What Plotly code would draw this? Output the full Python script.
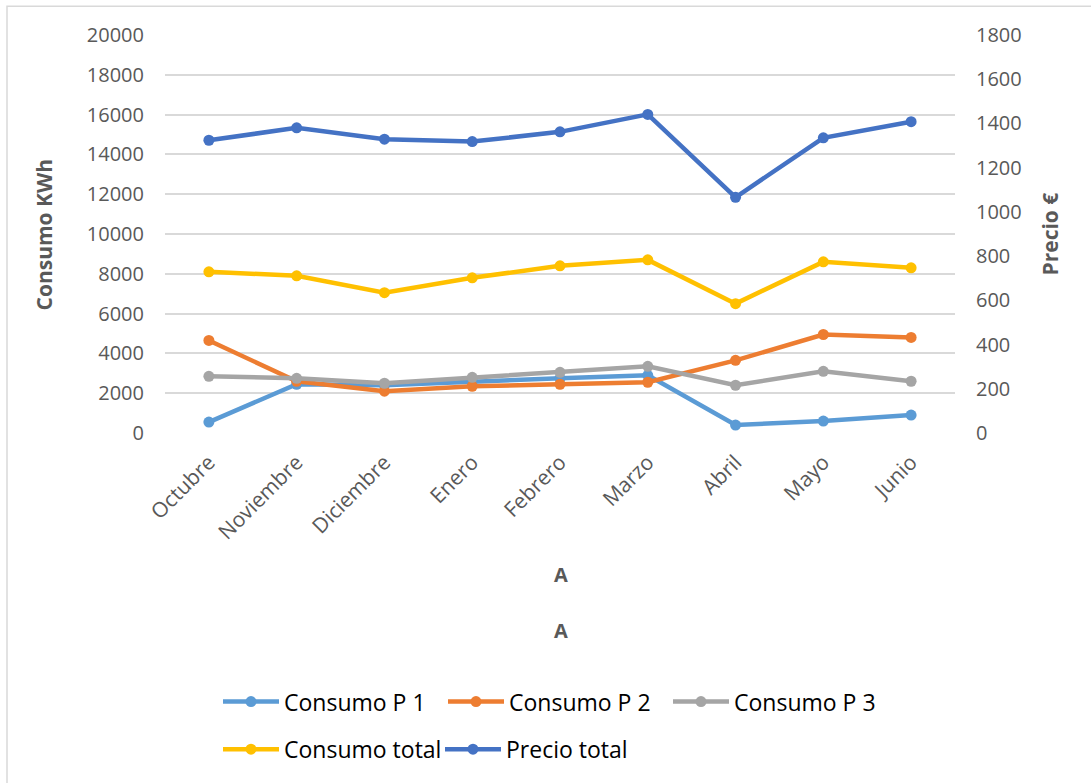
import plotly.graph_objects as go

# Months of the billing period
meses = ["Octubre", "Noviembre", "Diciembre", "Enero", "Febrero",
         "Marzo", "Abril", "Mayo", "Junio"]

# Consumption per tariff period (kWh)
consumo_p1 = [550, 2450, 2400, 2600, 2750, 2900, 400, 600, 900]
consumo_p2 = [4650, 2600, 2100, 2350, 2450, 2550, 3650, 4950, 4800]
consumo_p3 = [2850, 2750, 2500, 2800, 3050, 3350, 2400, 3100, 2600]
consumo_total = [8100, 7900, 7050, 7800, 8400, 8700, 6500, 8600, 8300]

# Total price (€), right axis
precio_total = [1324, 1380, 1329, 1318, 1362, 1441, 1066, 1335, 1408]

W, H = 1091, 783
ML, MR, MT, MB = 165, 136, 35, 347
PW, PH = W - ML - MR, H - MT - MB

TICK = "#595959"
GRID = "#D9D9D9"
FONT = "Open Sans, Noto Sans, DejaVu Sans, sans-serif"


def px_x(px):
    return (px - ML) / PW


def px_y(py):
    return (H - MB - py) / PH


fig = go.Figure()

series = [
    ("Consumo P 1", consumo_p1, "#5B9BD5", "y", "legend"),
    ("Consumo P 2", consumo_p2, "#ED7D31", "y", "legend"),
    ("Consumo P 3", consumo_p3, "#A5A5A5", "y", "legend"),
    ("Consumo total", consumo_total, "#FFC000", "y", "legend2"),
    ("Precio total", precio_total, "#4472C4", "y2", "legend2"),
]
for name, vals, color, yax, leg in series:
    fig.add_trace(go.Scatter(
        x=meses, y=vals, name=name, mode="lines+markers",
        line=dict(color=color, width=4.5),
        marker=dict(color=color, size=11),
        yaxis=yax, legend=leg,
    ))

legend_common = dict(
    orientation="h", xanchor="left", yanchor="top",
    font=dict(size=23, color="#000000", family=FONT),
    entrywidthmode="pixels", bgcolor="rgba(0,0,0,0)", itemwidth=56,
)

fig.update_layout(
    width=W, height=H,
    margin=dict(l=ML, r=MR, t=MT, b=MB),
    paper_bgcolor="white", plot_bgcolor="white",
    font=dict(family=FONT, color=TICK, size=20),
    xaxis=dict(
        type="category", range=[-0.5, 8.5], showgrid=False,
        showline=False, zeroline=False, ticks="",
        tickangle=-45, tickfont=dict(size=21, color=TICK),
        ticklabelstandoff=12,
    ),
    yaxis=dict(
        range=[0, 20000], dtick=2000, tickformat="d", showgrid=True,
        gridcolor=GRID, gridwidth=1.5, zeroline=False, showline=False,
        ticks="", tickfont=dict(size=20, color=TICK), ticklabelstandoff=20,
    ),
    yaxis2=dict(
        range=[0, 1800], dtick=200, tickformat="d", overlaying="y",
        side="right", showgrid=False, zeroline=False, showline=False,
        ticks="", tickfont=dict(size=20, color=TICK), ticklabelstandoff=20,
    ),
    legend=dict(x=px_x(218), y=px_y(685), entrywidth=154, **legend_common),
    legend2=dict(x=px_x(218), y=px_y(733), entrywidth=151, **legend_common),
    showlegend=True,
)

annotations = [
    dict(text="<b>Consumo KWh</b>", x=px_x(44), y=px_y(236), textangle=-90,
         font=dict(size=21, color=TICK)),
    dict(text="<b>Precio €</b>", x=px_x(1050), y=px_y(236), textangle=-90,
         font=dict(size=21, color=TICK)),
    dict(text="<b>A</b>", x=px_x(561), y=px_y(579),
         font=dict(size=20, color=TICK)),
    dict(text="<b>A</b>", x=px_x(561), y=px_y(635),
         font=dict(size=20, color=TICK)),
]
for a in annotations:
    a.update(xref="paper", yref="paper", showarrow=False,
             xanchor="center", yanchor="middle")
fig.update_layout(annotations=annotations)

# Chart frame (left and top edges visible inside the page)
fig.add_shape(type="rect", xref="paper", yref="paper",
              x0=px_x(7), x1=px_x(1100), y0=px_y(800), y1=px_y(6),
              line=dict(color=GRID, width=1.5), layer="below")

fig.write_html("out.html")
